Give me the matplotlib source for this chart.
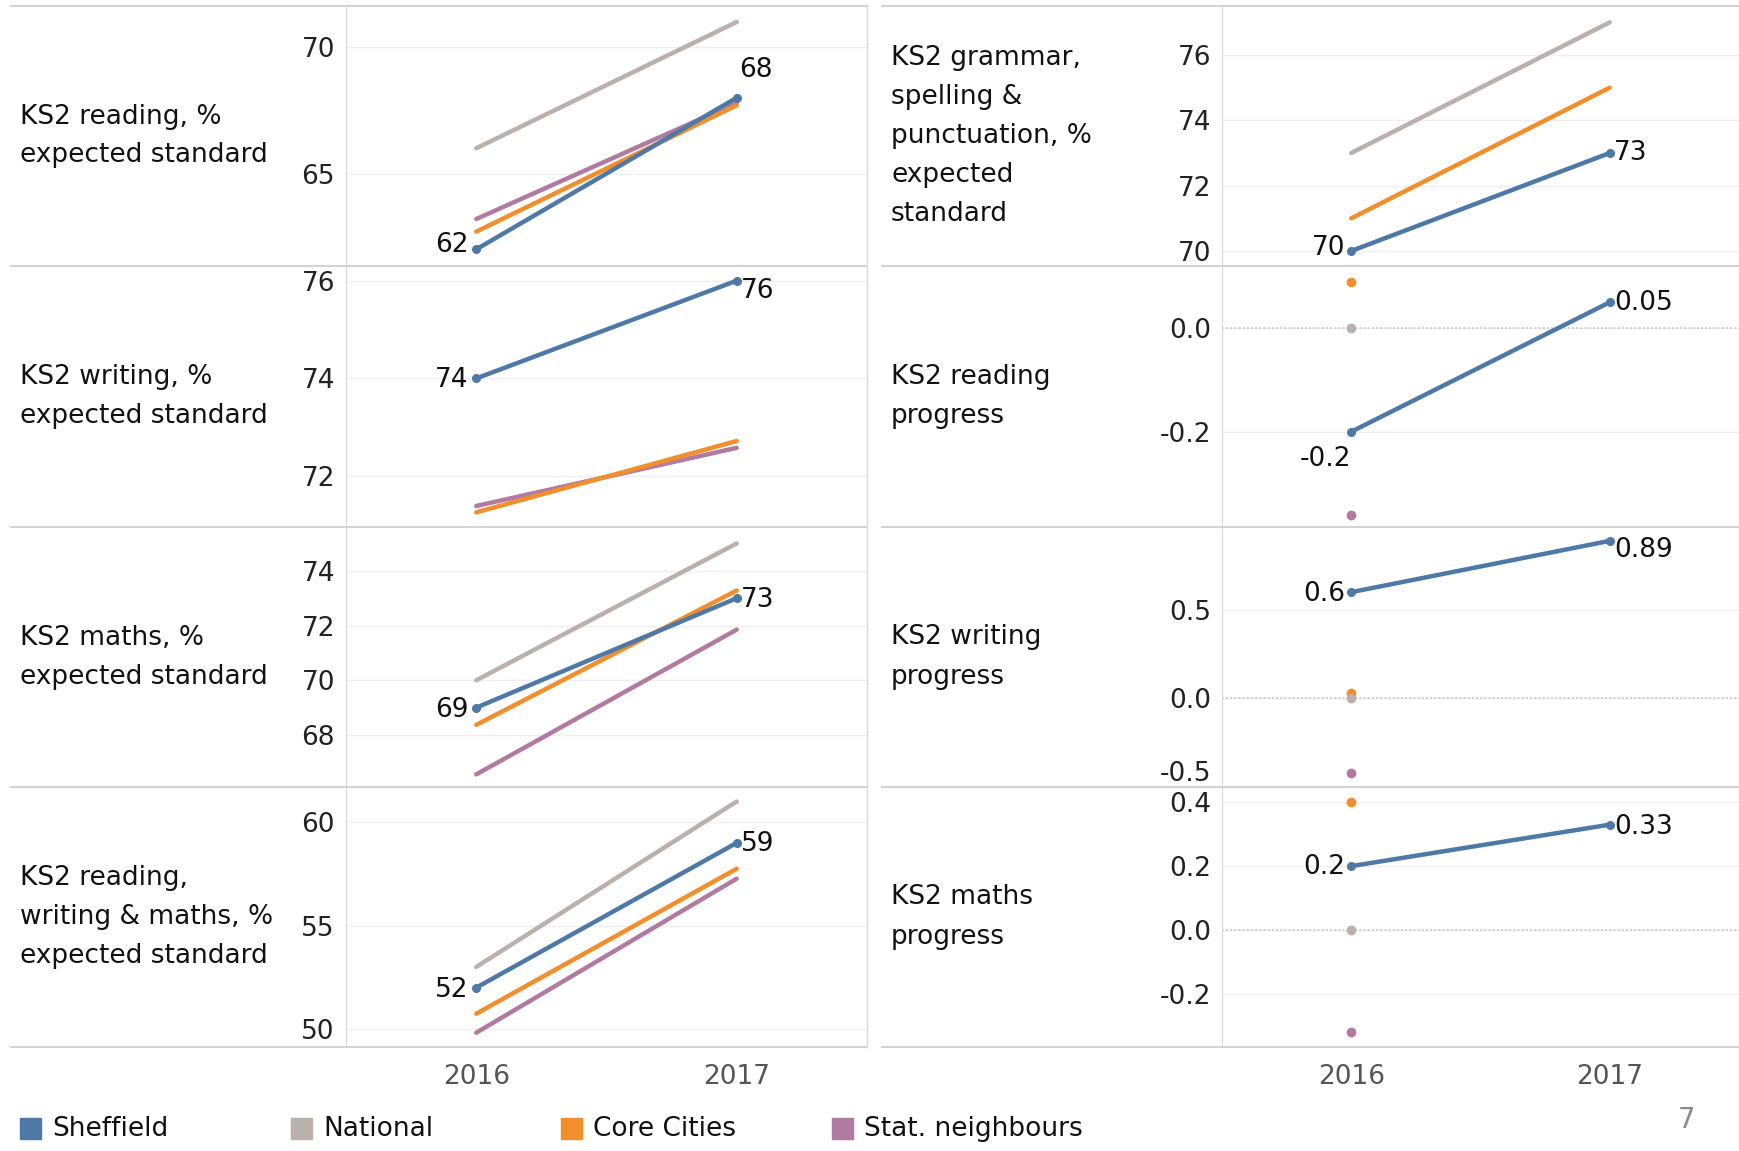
import matplotlib
matplotlib.use('Agg')
import numpy as np
import matplotlib.pyplot as plt
from matplotlib.lines import Line2D
from matplotlib.patches import Rectangle

plt.rcParams['font.family'] = ['DejaVu Sans']

years = [2016, 2017]
groups = ['Sheffield', 'National', 'Core Cities', 'Stat. neighbours']
colors = {'Sheffield': '#4e79a7', 'National': '#bab0ac',
          'Core Cities': '#f28e2b', 'Stat. neighbours': '#b07aa1'}
nan = np.nan

# % of pupils reaching the expected standard
reading_pct = {'Sheffield': [62, 68], 'National': [66, 71],
               'Core Cities': [62.7, 67.7], 'Stat. neighbours': [63.2, 67.8]}
writing_pct = {'Sheffield': [74, 76], 'National': [nan, nan],
               'Core Cities': [71.26, 72.72], 'Stat. neighbours': [71.39, 72.58]}
maths_pct = {'Sheffield': [69, 73], 'National': [70, 75],
             'Core Cities': [68.37, 73.28], 'Stat. neighbours': [66.56, 71.85]}
rwm_pct = {'Sheffield': [52, 59], 'National': [53, 61],
           'Core Cities': [50.74, 57.75], 'Stat. neighbours': [49.82, 57.27]}
gps_pct = {'Sheffield': [70, 73], 'National': [73, 77],
           'Core Cities': [71, 75], 'Stat. neighbours': [nan, nan]}

# progress scores (only Sheffield has 2017 here)
reading_prog = {'Sheffield': [-0.2, 0.05], 'National': [0.0, nan],
                'Core Cities': [0.09, nan], 'Stat. neighbours': [-0.36, nan]}
writing_prog = {'Sheffield': [0.6, 0.89], 'National': [0.0, nan],
                'Core Cities': [0.03, nan], 'Stat. neighbours': [-0.42, nan]}
maths_prog = {'Sheffield': [0.2, 0.33], 'National': [0.0, nan],
              'Core Cities': [0.4, nan], 'Stat. neighbours': [-0.32, nan]}

titles_left = ['KS2 reading, %\nexpected standard',
               'KS2 writing, %\nexpected standard',
               'KS2 maths, %\nexpected standard',
               'KS2 reading,\nwriting & maths, %\nexpected standard']
titles_right = ['KS2 grammar,\nspelling &\npunctuation, %\nexpected\nstandard',
                'KS2 reading\nprogress',
                'KS2 writing\nprogress',
                'KS2 maths\nprogress']
labels_left = [['62', '68'], ['74', '76'], ['69', '73'], ['52', '59']]
labels_right = [['70', '73'], ['-0.2', '0.05'], ['0.6', '0.89'], ['0.2', '0.33']]
yticks_left = [[65, 70], [72, 74, 76], [68, 70, 72, 74], [50, 55, 60]]
yticks_right = [[70, 72, 74, 76], [-0.2, 0.0], [-0.5, 0.0, 0.5], [-0.2, 0.0, 0.2, 0.4]]

# axis extents and label offsets (pixels)
ylims_left = [(61.34, 71.63), (70.96, 76.3), (66.1, 75.6), (49.13, 61.7)]
ylims_right = [(69.54, 77.5), (-0.384, 0.12), (-0.5, 0.968), (-0.367, 0.448)]
offs_left = [[(-8, 4), (2, 28)], [(-8, -2), (4, -10)], [(-8, -2), (4, -2)], [(-8, -2), (4, -1)]]
offs_right = [[(-6, 3), (4, 0)], [(0, -27), (4, -1)], [(-6, -2), (4, -9)], [(-6, -1), (4, -2)]]

FS = 19
W, H = 1739, 1151
fig = plt.figure(figsize=(W / 100, H / 100), dpi=100)
rows = [6, 266, 527, 787, 1047]


def rect(x0, y0, x1, y1):
    return [x0 / W, 1 - y1 / H, (x1 - x0) / W, (y1 - y0) / H]


def draw_panel(ax, data, title, labels, offs, yticks, ylim, label_x, progress, bottom, row):
    ax.set_xlim(2015.5, 2017.5)
    ax.set_ylim(*ylim)
    ax.set_yticks(yticks)
    ax.set_yticklabels(['%.1f' % t if progress else '%d' % t for t in yticks])
    ax.grid(axis='y', color='#efefef', lw=1)
    ax.set_axisbelow(True)
    if progress:
        ax.axhline(0, color='#c4c4c4', lw=1.2, ls=(0, (1, 1.5)), zorder=1)
    for s in ['top', 'right', 'bottom']:
        ax.spines[s].set_visible(False)
    ax.spines['left'].set_color('#d9d9d9')
    ax.tick_params(axis='y', length=0, pad=8, labelsize=FS, labelcolor='#222222')
    if bottom:
        ax.set_xticks(years)
        ax.set_xticklabels([str(y) for y in years])
        ax.tick_params(axis='x', length=0, pad=12, labelsize=FS, labelcolor='#555555')
    else:
        ax.set_xticks([])

    for g in ['Stat. neighbours', 'Core Cities', 'National', 'Sheffield']:
        vals = data[g]
        if g == 'Sheffield':
            ax.plot(years, vals, color=colors[g], lw=3.2, marker='o', ms=5.5,
                    solid_capstyle='round', zorder=5)
        elif progress:
            ax.plot(years, vals, color=colors[g], lw=0, marker='o', ms=6, zorder=4)
        else:
            ax.plot(years, vals, color=colors[g], lw=3.2, solid_capstyle='round', zorder=3)

    vals = data['Sheffield']
    ax.annotate(labels[0], (years[0], vals[0]), xytext=offs[0], textcoords='offset pixels',
                ha='right', va='center', fontsize=FS, color='#111111')
    ax.annotate(labels[1], (years[1], vals[1]), xytext=offs[1], textcoords='offset pixels',
                ha='left', va='center', fontsize=FS, color='#111111')

    mid = (rows[row] + rows[row + 1]) / 2
    fig.text(label_x / W, 1 - mid / H, title, ha='left', va='center',
             fontsize=FS, color='#111111', linespacing=1.65)


left_data = [reading_pct, writing_pct, maths_pct, rwm_pct]
right_data = [gps_pct, reading_prog, writing_prog, maths_prog]

for i in range(4):
    ax = fig.add_axes(rect(346, rows[i], 867, rows[i + 1]))
    draw_panel(ax, left_data[i], titles_left[i], labels_left[i], offs_left[i],
               yticks_left[i], ylims_left[i], 20, False, i == 3, i)
    ax = fig.add_axes(rect(1222, rows[i], 1739, rows[i + 1]))
    draw_panel(ax, right_data[i], titles_right[i], labels_right[i], offs_right[i],
               yticks_right[i], ylims_right[i], 891, i > 0, i == 3, i)
    if i == 2:
        ax.get_yticklabels()[0].set_verticalalignment('bottom')

# row separators and the left block's right border
for y in rows:
    fig.add_artist(Line2D([11 / W, 867 / W], [1 - y / H] * 2, color='#d3d3d3', lw=1.5))
    fig.add_artist(Line2D([882 / W, 1.0], [1 - y / H] * 2, color='#d3d3d3', lw=1.5))
fig.add_artist(Line2D([867 / W] * 2, [1 - rows[0] / H, 1 - rows[-1] / H], color='#d9d9d9', lw=1))

# legend
leg_x = [20, 291, 561, 832]
for x, g in zip(leg_x, groups):
    fig.add_artist(Rectangle((x / W, 1 - 1139 / H), 21 / W, 21 / H,
                             transform=fig.transFigure, color=colors[g]))
    fig.text((x + 32) / W, 1 - 1129 / H, g, ha='left', va='center',
             fontsize=FS, color='#111111')

fig.text(1687 / W, 1 - 1120 / H, '7', ha='center', va='center', fontsize=20, color='#8a8a8a')

fig.savefig('out.png', dpi=100)
